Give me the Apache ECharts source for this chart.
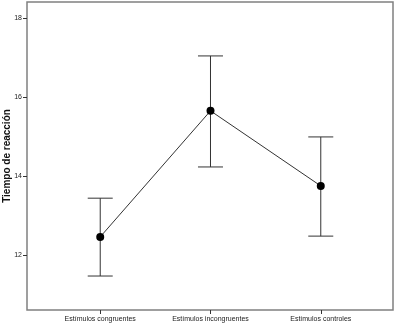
<!DOCTYPE html>
<html><head><meta charset="utf-8">
<script src="https://cdn.jsdelivr.net/npm/echarts@6/dist/echarts.min.js"></script>
<style>html,body{margin:0;padding:0;background:#fff}#c{width:397px;height:331px}</style>
</head><body><div id="c"></div>
<script>
const categories = ['Estímulos congruentes', 'Estímulos incongruentes', 'Estímulos controles'];
const means = [12.46, 15.65, 13.75];
const lower = [11.47, 14.23, 12.48];
const upper = [13.44, 17.04, 14.99];
const yTicks = [12, 14, 16, 18];

const chart = echarts.init(document.getElementById('c'));
const font = 'Liberation Sans, Arial, sans-serif';
chart.setOption({
  animation: false,
  backgroundColor: '#fff',
  grid: { left: 27, right: 4, top: 2, bottom: 21, containLabel: false, outerBoundsMode: 'none', show: true, borderColor: '#808080', borderWidth: 1.5, backgroundColor: '#fff' },
  xAxis: {
    type: 'value', min: -0.664, max: 2.655,
    splitLine: { show: false },
    axisLine: { show: false, onZero: false },
    axisTick: { show: true, customValues: [0, 1, 2], length: 4, lineStyle: { color: '#333' } },
    axisLabel: { customValues: [0, 1, 2], formatter: v => categories[Math.round(v)], fontFamily: font, fontSize: 7, color: '#222', margin: 6 }
  },
  yAxis: {
    type: 'value', min: 10.61, max: 18.405,
    name: 'Tiempo de reacción', nameLocation: 'middle', nameGap: 15, nameMoveOverlap: false,
    nameTextStyle: { fontFamily: font, fontSize: 10, fontWeight: 'bold', color: '#111' },
    splitLine: { show: false },
    axisLine: { show: false, onZero: false },
    axisTick: { show: true, customValues: yTicks, length: 4, lineStyle: { color: '#333' } },
    axisLabel: { customValues: yTicks, fontFamily: font, fontSize: 7, color: '#222', margin: 5 }
  },
  series: [
    {
      type: 'custom',
      data: categories.map((c, i) => [i, lower[i], upper[i]]),
      renderItem: function (params, api) {
        const x = api.value(0);
        const lo = api.coord([x, api.value(1)]);
        const hi = api.coord([x, api.value(2)]);
        const hw = 12.5;
        const style = { stroke: '#333', lineWidth: 1 };
        return { type: 'group', children: [
          { type: 'line', shape: { x1: lo[0], y1: lo[1], x2: hi[0], y2: hi[1] }, style },
          { type: 'line', shape: { x1: hi[0] - hw, y1: hi[1], x2: hi[0] + hw, y2: hi[1] }, style },
          { type: 'line', shape: { x1: lo[0] - hw, y1: lo[1], x2: lo[0] + hw, y2: lo[1] }, style }
        ] };
      },
      z: 2
    },
    {
      type: 'line',
      data: means.map((m, i) => [i, m]),
      symbol: 'circle', symbolSize: 8,
      itemStyle: { color: '#000' },
      lineStyle: { color: '#333', width: 1 },
      z: 3
    }
  ]
});
</script></body></html>
